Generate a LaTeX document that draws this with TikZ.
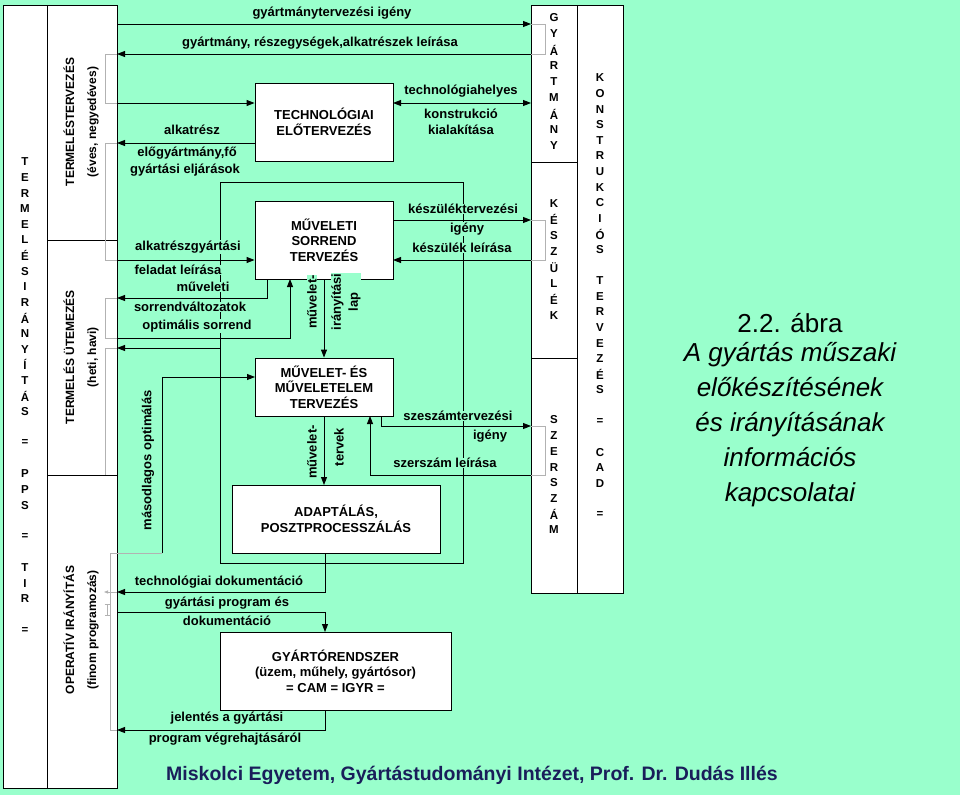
\documentclass[tikz,border=0pt]{standalone}
\usepackage{fontspec}
\setmainfont{Liberation Sans}
\usetikzlibrary{arrows.meta}
\definecolor{bg}{RGB}{153,255,204}
\definecolor{navy}{RGB}{25,30,90}
\begin{document}
\begin{tikzpicture}[x=1pt,y=-1pt,
  ln/.style={line width=0.9pt},
  ar/.style={ln,-{Triangle[length=8pt,width=6pt]}},
  gr/.style={line width=0.8pt,gray!60},
  lab/.style={font=\bfseries\fontsize{13}{15}\selectfont,fill=bg,inner sep=0.5pt},
  rlab/.style={lab,rotate=90},
  box/.style={draw,line width=0.9pt,fill=white,font=\bfseries\fontsize{13}{15.5}\selectfont,align=center},
  col/.style={draw,line width=0.9pt,fill=white},
  let/.style={font=\bfseries\fontsize{11.5}{12}\selectfont,inner sep=0pt}]
\fill[bg] (0,0) rectangle (960,795);
\useasboundingbox (0,0) rectangle (960,795);
% left columns
\draw[col] (3,5) rectangle (47,788);
\draw[col] (47,5) rectangle (117,788);
\draw[line width=0.9pt] (47,240) -- (117,240);
\draw[line width=0.9pt] (47,475) -- (117,475);
\foreach \l [count=\i] in {T,E,R,M,E,L,É,S,I,R,Á,N,Y,Í,T,Á,S,{},=,{},P,P,S,{},=,{},T,I,R,{},=}
  \node[let] (c1\i) at (25,{162+(\i-1)*15.6}) {\l};
\node[rotate=90,align=center,font=\bfseries\fontsize{12}{22}\selectfont] (tt) at (81,122) {TERMELÉSTERVEZÉS\\(éves, negyedéves)};
\node[rotate=90,align=center,font=\bfseries\fontsize{12}{22}\selectfont] (tu) at (81,357) {TERMELÉS ÜTEMEZÉS\\(heti, havi)};
\node[rotate=90,align=center,font=\bfseries\fontsize{12}{22}\selectfont] (to) at (81,630) {OPERATÍV IRÁNYÍTÁS\\(finom programozás)};
% right columns
\draw[col] (531,5) rectangle (577,593);
\draw[col] (577,5) rectangle (623,593);
\draw[line width=0.9pt] (531,162) -- (577,162);
\draw[line width=0.9pt] (531,358) -- (577,358);
\foreach \l [count=\i] in {G,Y,Á,R,T,M,Á,N,Y}
  \node[let] (g\i) at (554,{18+(\i-1)*16}) {\l};
\foreach \l [count=\i] in {K,É,S,Z,Ü,L,É,K}
  \node[let] (k\i) at (554,{204+(\i-1)*15.9}) {\l};
\foreach \l [count=\i] in {S,Z,E,R,S,Z,Á,M}
  \node[let] (s\i) at (554,{420+(\i-1)*15.7}) {\l};
\foreach \l [count=\i] in {K,O,N,S,T,R,U,K,C,I,Ó,S,{},T,E,R,V,E,Z,É,S,{},=,{},C,A,D,{},=}
  \node[let] (kc\i) at (600,{78+(\i-1)*15.6}) {\l};
% gray brackets
\draw[gr] (531,24) -- (545,24) -- (545,54) -- (531,54);
\draw[gr] (531,220) -- (545,220) -- (545,260) -- (531,260);
\draw[gr] (531,426) -- (545,426) -- (545,475) -- (531,475);
\draw[gr] (117,54) -- (105,54) -- (105,103) -- (117,103);
\draw[gr] (117,143) -- (105,143) -- (105,260) -- (117,260);
\draw[gr] (117,298) -- (105,298) -- (105,338) -- (117,338);
\draw[gr] (117,348) -- (105,348) -- (105,475);
\draw[gr] (162,553) -- (110,553) -- (110,730) -- (117,730);
\draw[gr,-{Triangle[length=4pt,width=3pt]}] (117,592) -- (104,592);
\draw[gr,{Bar[width=5pt]}-{Bar[width=5pt]}] (107,604) -- (107,616);
% boxes
\node[box,minimum width=138pt,minimum height=78pt] (tech) at (324,122) {TECHNOLÓGIAI\\ELŐTERVEZÉS};
\node[box,minimum width=138pt,minimum height=78pt] (msor) at (324,240) {MŰVELETI\\SORREND\\TERVEZÉS};
\node[box,minimum width=138pt,minimum height=58pt] (mel) at (324,387) {MŰVELET- ÉS\\MŰVELETELEM\\TERVEZÉS};
\node[box,minimum width=208pt,minimum height=68pt] (adapt) at (336,519) {ADAPTÁLÁS,\\POSZTPROCESSZÁLÁS};
\node[box,minimum width=231pt,minimum height=78pt] (gyr) at (335.5,671) {GYÁRTÓRENDSZER\\(üzem, műhely, gyártósor)\\= CAM = IGYR =};
% loop rectangle (behind labels)
\draw[ln] (220,182) rectangle (463,563);
\draw[ar] (220,348) -- (117,348);
% top arrows
\draw[ar] (117,24) -- (531,24);
\draw[ar] (531,54) -- (117,54);
\draw[ar] (117,103) -- (117,103 -| tech.west);
\draw[ln,{Triangle[length=8pt,width=6pt]}-{Triangle[length=8pt,width=6pt]}] (393,103) -- (531,103);
\draw[ar] (255,143) -- (117,143);
\draw[ar] (117,260) -- (117,260 -| msor.west);
\draw[ar] (393,220) -- (531,220);
\draw[ar] (531,260) -- (393,260);
\draw[ar] (267,279) -- (267,298) -- (117,298);
\draw[ar] (117,338) -- (290,338) -- (290,279);
\draw[ar] (msor.south) -- (mel.north);
\draw[ln] (162,553) -- (162,377);
\draw[ar] (162,377) -- (255,377);
\draw[ar] (381,416) -- (381,426) -- (531,426);
\draw[ar] (531,475) -- (370,475) -- (370,416);
\draw[ar] (mel.south) -- (324,485);
\draw[ar] (adapt.south -| 325,0) -- (325,592) -- (117,592);
\draw[ar] (117,612) -- (325,612) -- (325,632);
\draw[ar] (325,710) -- (325,730) -- (117,730);
% labels
\node[lab] (l1) at (332,13) {gyártmánytervezési igény};
\node[lab] (l2) at (320,43) {gyártmány, részegységek,alkatrészek leírása};
\node[lab] (l3) at (461,91) {technológiahelyes};
\node[lab] (l4) at (461,114) {konstrukció};
\node[lab] (l5) at (461,130) {kialakítása};
\node[lab] (l6) at (192,130) {alkatrész};
\node[lab] (l7) at (187,153) {előgyártmány,fő};
\node[lab] (l8) at (185,170) {gyártási eljárások};
\node[lab] (l9) at (463,209) {készüléktervezési};
\node[lab] (l10) at (467,229) {igény};
\node[lab] (l11) at (462,248) {készülék leírása};
\node[lab] (l12) at (188,247) {alkatrészgyártási};
\node[lab] (l13) at (178,270) {feladat leírása};
\node[lab] (l14) at (203,287) {műveleti};
\node[lab] (l15) at (190,307) {sorrendváltozatok};
\node[lab] (l16) at (197,326) {optimális sorrend};
\node[lab] (l17) at (458,416) {szeszámtervezési};
\node[lab] (l18) at (490,436) {igény};
\node[lab] (l19) at (445,463) {szerszám leírása};
\node[lab] (l20) at (219,582) {technológiai dokumentáció};
\node[lab] (l21) at (227,603) {gyártási program és};
\node[lab] (l22) at (227,621) {dokumentáció};
\node[lab] (l23) at (227,718) {jelentés a gyártási};
\node[lab] (l24) at (225,739) {program végrehajtásáról};
\node[rlab] (r1) at (148,460) {másodlagos optimálás};
\node[rlab] (r2) at (312,302) {művelet-};
\node[rlab,align=center,font=\bfseries\fontsize{13}{17}\selectfont] (r3) at (346,302) {irányítási\\lap};
\node[rlab] (r4) at (312,452) {művelet-};
\node[rlab] (r5) at (339,447) {tervek};
% caption
\node[font=\fontsize{26}{30}\selectfont] (cap0) at (790,323) {2.2. ábra};
\node[font=\itshape\fontsize{26}{35}\selectfont,align=center] (cap) at (790,425) {A gyártás műszaki\\előkészítésének\\és irányításának\\információs\\kapcsolatai};
\node[font=\bfseries\fontsize{19.5}{22}\selectfont,text=navy] (foot) at (472,775) {Miskolci Egyetem, Gyártástudományi Intézet, Prof. Dr. Dudás Illés};
\end{tikzpicture}
\end{document}
